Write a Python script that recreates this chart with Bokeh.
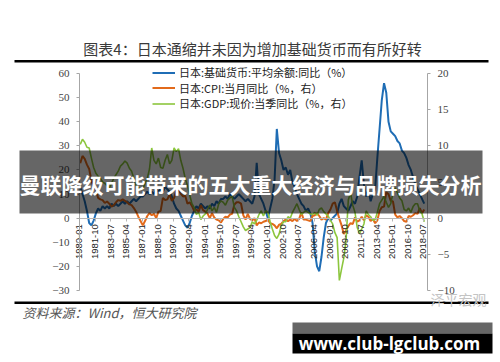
import math
from bokeh.plotting import figure
from bokeh.models import (Range1d, LinearAxis, FixedTicker, BoxAnnotation, Label,
                          Legend, LegendItem)
from bokeh.embed import file_html
from bokeh.resources import INLINE

# ---------------- texts ----------------
TITLE = "图表4：日本通缩并未因为增加基础货币而有所好转"
OVERLAY = "曼联降级可能带来的五大重大经济与品牌损失分析"
SOURCE = "资料来源：Wind，恒大研究院"
WATERMARK = "泽平宏观"
SITE = "www.club-lgclub.com"
SERIES_NAMES = ["日本:基础货币:平均余额:同比（%）",
                "日本:CPI:当月同比（%，右）",
                "日本:GDP:现价:当季同比（%，右）"]

# ---------------- axes ----------------
DATE_LABELS = ["1980-01", "1981-10", "1983-07", "1985-04", "1987-01", "1988-10",
               "1990-07", "1992-04", "1994-01", "1995-10", "1997-07", "1999-04",
               "2001-01", "2002-10", "2004-07", "2006-04", "2008-01", "2009-10",
               "2011-07", "2013-04", "2015-01", "2016-10", "2018-07"]
LEFT_TICKS = [60, 50, 40, 30, 20, 10, 0, -10, -20, -30]
RIGHT_TICKS = [20, 15, 10, 5, 0, -5, -10]
START_YEAR = 1980  # quarterly data, 1980Q1 .. 2018Q3

# ---------------- data (quarterly) ----------------
# monetary base, average balance, YoY %  (left axis)
BASE = [13, 10, 7, 3,   -2, -3, -1, 2,   4, 3, 5, 4,   5, 4, 6, 5,
        6, 5, 6, 7,     6, 7, 6, 7,      8, 7, 8, 9,   9, 10, 11, 10,
        11, 10, 12, 11, 12, 11, 13, 12,  11, 9, 6, 4,  3, 1, -1, -3,
        -4, -2, 1, 3,   5, 4, 6, 5,      4, 5, 4, 6,   5, 7, 6, 8,
        8, 9, 8, 10,    9, 8, 9, 10,     9, 8, 7, 8,   7, 6, 9, 23,
        10, 8, 6, 3,    0, 4, 8, 16,     37, 27, 24, 20, 21, 18, 20, 15,
        13, 10, 8, 6,   5, 3, 4, 2,      -2, -14, -20, -22, -16, -8, -2, 0,
        -1, 0, 1, 2,    6, 8, 5, 4,      3, 5, 7, 6,   9, 17, 24, 14,
        9, 12, 7, 10,   12, 25, 37, 49,  56, 52, 40, 36, 35, 34, 32, 31,
        28, 27, 25, 22, 20, 17, 14, 12,  10, 8, 6]
# CPI YoY % (right axis)
CPI = [7.6, 8.6, 8.2, 7.4,  6.8, 5.2, 4.3, 4.0,  2.8, 2.6, 2.5, 2.1,  2.3, 2.0, 1.6, 1.8,
       2.2, 2.5, 2.4, 2.6,  2.4, 2.2, 1.9, 1.8,  1.4, 0.9, 0.2, -0.4, -1.0, -0.4, 0.3, 0.7,
       0.4, 0.6, 0.0, 0.9,  1.0, 2.8, 2.5, 2.6,  3.3, 2.4, 2.8, 3.8,  3.9, 3.4, 3.0, 3.1,
       2.0, 2.2, 1.7, 1.0,  1.2, 0.9, 1.8, 1.1,  0.9, 0.6, 0.0, 0.7,  0.1, -0.2, -0.3, -0.6,
       -0.1, 0.2, 0.1, 0.5, 0.6, 1.9, 2.2, 2.2,  2.0, 0.4, -0.2, 0.6, -0.1, -0.3, 0.0, -1.0,
       -0.6, -0.7, -0.5, -0.4, -0.2, -0.7, -0.8, -1.0, -1.4, -0.9, -0.8, -0.4, -0.2, -0.4, -0.2, -0.4,
       -0.1, -0.4, -0.1, 0.8, -0.2, -0.2, -0.3, -0.4, 0.3, 0.4, 0.7, 0.3, -0.2, 0.0, -0.2, 0.7,
       1.2, 2.0, 2.2, 1.0,  -0.1, -1.0, -2.2, -1.7, -1.1, -0.7, -0.8, 0.1, -0.5, -0.3, 0.2, -0.3,
       0.4, 0.2, -0.4, -0.1, -0.7, -0.3, 1.0, 1.5, 1.6, 3.6, 3.3, 2.4,  2.3, 0.5, 0.1, 0.3,
       0.0, -0.4, -0.5, 0.3, 0.2, 0.4, 0.7, 0.6,  1.4, 0.7, 1.2]
# nominal GDP YoY % (right axis)
GDP = [10.2, 10.9, 10.5, 9.8, 9.7, 8.3, 7.0, 6.2,  5.8, 5.5, 5.0, 4.8,  4.5, 4.2, 4.8, 5.5,
       6.0, 6.5, 7.2, 7.5,  7.9, 7.6, 6.9, 6.5,  5.5, 4.5, 4.2, 4.0,  4.0, 4.8, 5.5, 6.8,
       9.7, 8.0, 7.5, 8.3,  7.0, 6.9, 8.0, 8.8,  7.5, 8.0, 9.7, 9.2,  9.6, 8.0, 6.9, 5.5,
       4.5, 3.2, 2.0, 1.5,  0.5, 0.8, -0.2, 0.3, 0.6, 1.2, 1.8, 1.0,  1.5, 0.8, 2.0, 2.4,
       2.2, 1.8, 2.5, 2.8,  3.0, 1.5, 1.0, 0.2,  -0.5, -1.2, -1.7, -1.5, -1.3, -0.5, -0.8, -0.3,
       0.5, 1.0, 0.3, 1.0,  0.8, -0.5, -1.5, -2.4, -2.8, -2.2, -1.0, -0.5, -0.5, 0.2, 0.0, 0.8,
       1.4, 2.0, 1.2, 0.5,  0.8, 1.0, 0.8, 0.6,  0.5, 0.8, 0.4, 1.2,  1.4, 0.9, 0.6, 0.3,
       -0.3, -0.8, -2.0, -2.7, -8.6, -7.0, -5.5, -3.0, 2.5, 3.5, 1.8, 0.8, -1.3, -2.1, -1.5, -0.8,
       1.0, 0.5, 0.2, -0.3, -0.2, 0.8, 2.0, 2.5,  3.0, 2.2, 1.5, 2.0,  3.5, 4.2, 3.5, 2.8,
       2.4, 1.2, 1.0, 1.4,  0.8, 1.6, 2.0, 2.0,  1.0, 0.6, -0.5]

BLUE, ORANGE, GREEN = "#1f6db5", "#e26a1b", "#8cc63e"


def month_index(label):
    y, m = label.split("-")
    return (int(y) - START_YEAR) * 12 + int(m) - 1


# x positions: month index at mid quarter
xq = [3 * i + 1 for i in range(len(BASE))]
tick_pos = [month_index(s) for s in DATE_LABELS]

# ---------------- canvas calibration ----------------
W, H = 500, 362
px_per_month = (423 - 79) / tick_pos[-1]
x_start = -79 / px_per_month
x_end = x_start + W / px_per_month
px_per_unit = (290 - 73) / 90.0
y_top = 60 + 73 / px_per_unit
y_bot = y_top - H / px_per_unit


def dx(px):
    return x_start + px / px_per_month


def dy(py):
    return y_top - py / px_per_unit


p = figure(width=W, height=H, x_range=Range1d(x_start, x_end),
           y_range=Range1d(y_bot, y_top), x_axis_type=None, y_axis_type=None,
           toolbar_location=None, output_backend="svg", min_border=0,
           outline_line_color=None, background_fill_color="white",
           border_fill_color="white")
p.extra_y_ranges = {"r": Range1d(y_bot / 3.0, y_top / 3.0)}

x_right = dx(427)

# axes
AX = "#a6a6a6"
left = LinearAxis(fixed_location=0, bounds=(LEFT_TICKS[-1], LEFT_TICKS[0]),
                  ticker=FixedTicker(ticks=LEFT_TICKS, minor_ticks=[]))
right = LinearAxis(y_range_name="r", fixed_location=x_right,
                   bounds=(RIGHT_TICKS[-1], RIGHT_TICKS[0]),
                   ticker=FixedTicker(ticks=RIGHT_TICKS, minor_ticks=[]))
for ax in (left, right):
    ax.axis_line_color = AX
    ax.major_tick_line_color = AX
    ax.major_tick_out = 3
    ax.major_tick_in = 0
    ax.major_label_text_font = "Liberation Serif"
    ax.major_label_text_font_size = "11px"
    ax.major_label_text_color = "#444444"
    ax.major_label_standoff = 7
p.add_layout(left, "left")
p.add_layout(right, "right")

xaxis = LinearAxis(fixed_location=0, bounds=(0, x_right),
                   ticker=FixedTicker(ticks=tick_pos, minor_ticks=[]),
                   major_label_overrides={t: s for t, s in zip(tick_pos, DATE_LABELS)},
                   major_label_orientation=math.pi / 2)
xaxis.axis_line_color = "#b5b5b5"
xaxis.major_tick_line_color = "#b5b5b5"
xaxis.major_tick_out = 3
xaxis.major_tick_in = 0
xaxis.major_label_text_font = "Liberation Sans"
xaxis.major_label_text_font_size = "9.5px"
xaxis.major_label_text_color = "#222222"
xaxis.major_label_standoff = 3
p.add_layout(xaxis, "below")

# series
r_base = p.line(xq, BASE, line_color=BLUE, line_width=2)
r_cpi = p.line(xq, CPI, y_range_name="r", line_color=ORANGE, line_width=2)
r_gdp = p.line(xq, GDP, y_range_name="r", line_color=GREEN, line_width=1.6)

# legend: one single-row legend per series so rows sit at the reference spacing
for name, rend, row_center in zip(SERIES_NAMES, [r_base, r_cpi, r_gdp], [72, 87.5, 103]):
    lg = Legend(items=[LegendItem(label=name, renderers=[rend])],
                location=(152, H - row_center - 8), border_line_color=None,
                background_fill_alpha=0, padding=0, margin=0, spacing=0,
                glyph_width=23, glyph_height=11, label_height=11, label_standoff=4,
                label_text_font="Noto Sans CJK SC", label_text_font_size="11px",
                label_text_color="#222222")
    p.add_layout(lg)

# title and rules
p.add_layout(Label(x=dx(252), y=dy(48), text=TITLE, text_align="center",
                   text_baseline="middle", text_font="Noto Sans CJK SC",
                   text_font_size="15px", text_color="#3a3a3a"))
p.add_layout(BoxAnnotation(left=dx(14), right=dx(488), top=dy(59.5), bottom=dy(62),
                           fill_color="black", fill_alpha=1, line_color=None))
p.add_layout(BoxAnnotation(left=dx(14), right=dx(488), top=dy(301), bottom=dy(303.5),
                           fill_color="black", fill_alpha=1, line_color=None))
p.add_layout(Label(x=dx(430), y=dy(298), text=WATERMARK, text_align="left",
                   text_baseline="middle", text_font="Noto Sans CJK SC",
                   text_font_size="14px", text_color="#c4c4c4"))
p.add_layout(Label(x=dx(22), y=dy(312), text=SOURCE, text_align="left",
                   text_baseline="middle", text_font="Noto Sans CJK SC",
                   text_font_size="13px", text_font_style="italic",
                   text_color="#555555"))

# overlay banner
p.add_layout(BoxAnnotation(left=dx(19), right=dx(482), top=dy(150), bottom=dy(213),
                           fill_color="black", fill_alpha=0.6, line_color=None))
p.add_layout(Label(x=dx(250), y=dy(183), text=OVERLAY, text_align="center",
                   text_baseline="middle", text_font="Noto Sans CJK SC",
                   text_font_style="bold", text_font_size="21px",
                   text_color="white"))

# site box
p.add_layout(BoxAnnotation(left=dx(292), right=dx(492), top=dy(322), bottom=dy(333),
                           fill_color="#666666", fill_alpha=1, line_color=None))
p.add_layout(BoxAnnotation(left=dx(292), right=dx(492), top=dy(333), bottom=dy(353),
                           fill_color="black", fill_alpha=1, line_color=None))
p.add_layout(Label(x=dx(389), y=dy(343), text=SITE, text_align="center",
                   text_baseline="middle", text_font="Open Sans",
                   text_font_style="bold", text_font_size="17px",
                   text_color="white"))

open("out.html", "w").write(file_html(p, INLINE))
